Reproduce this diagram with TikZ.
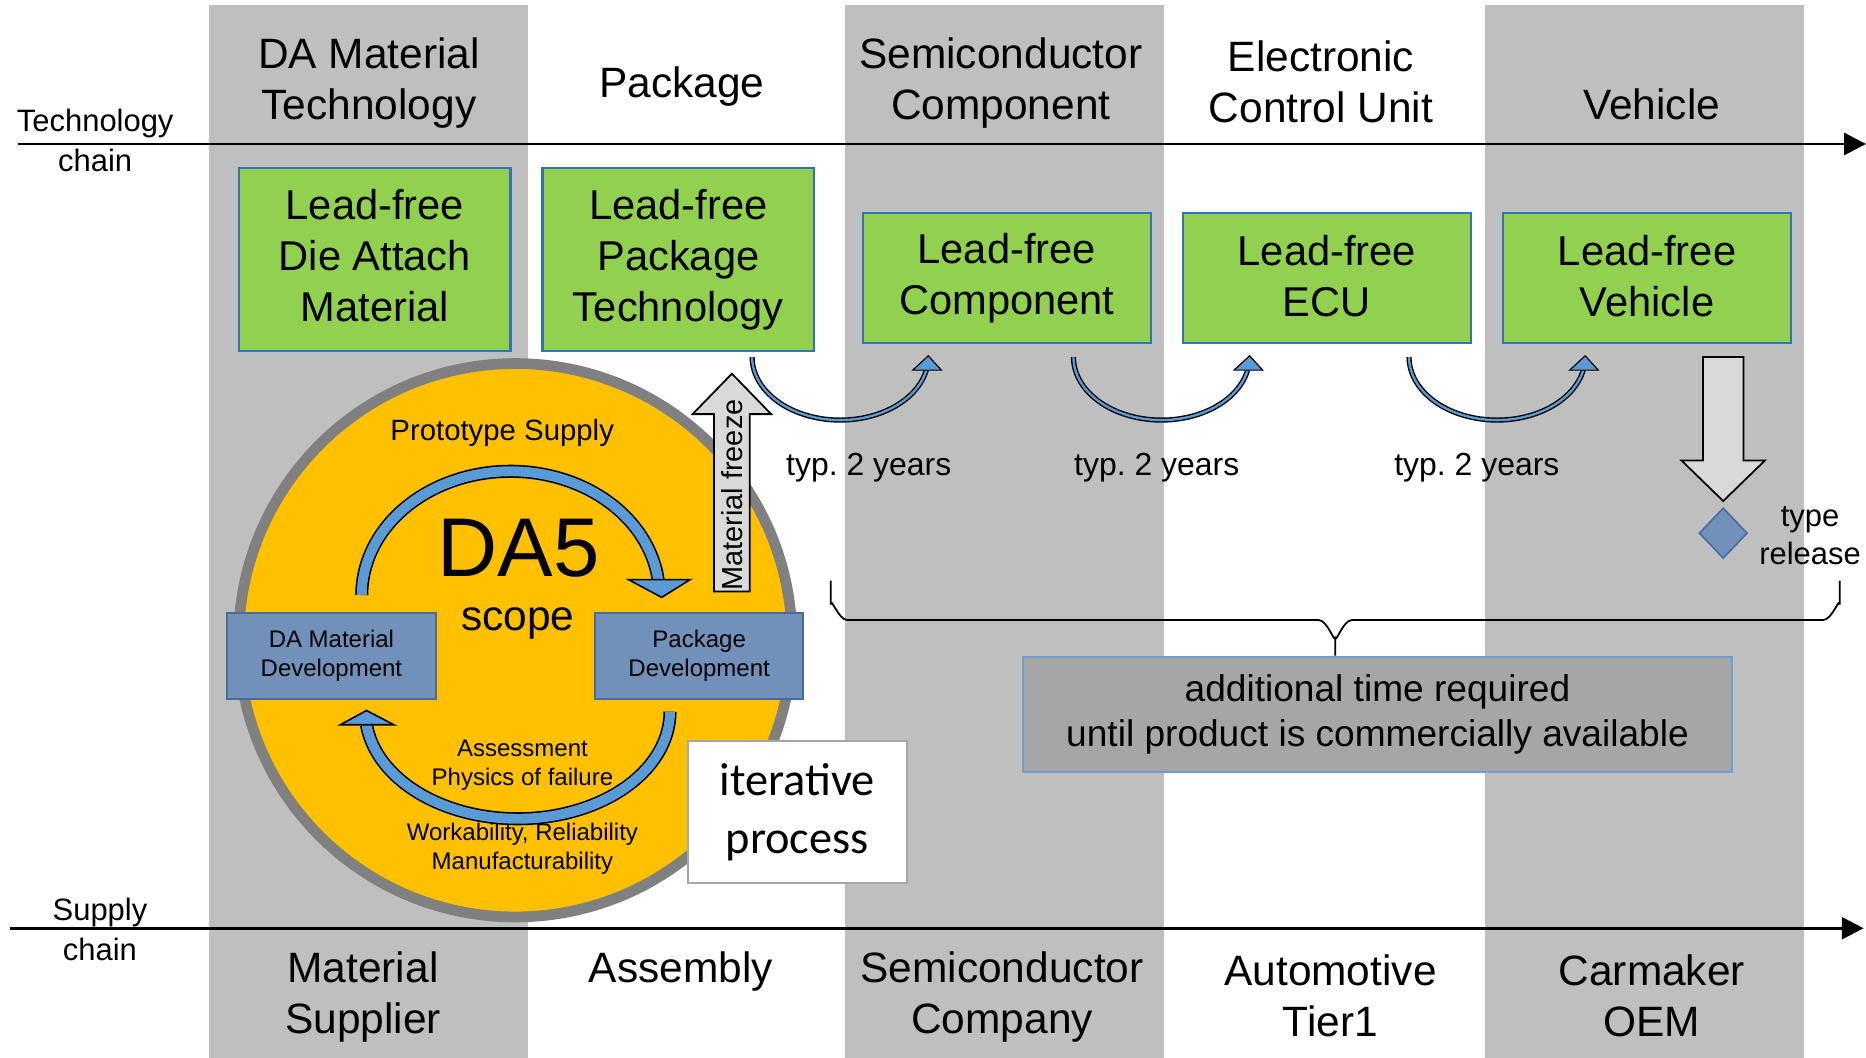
\documentclass[tikz,border=0pt]{standalone}
\usepackage{fontspec}
\setmainfont{Liberation Sans}
\newfontfamily\calibrifont{Carlito}
\usetikzlibrary{arrows.meta}
\definecolor{colgray}{HTML}{BFBFBF}
\definecolor{leafgreen}{HTML}{92D050}
\definecolor{boxblue}{HTML}{2E75B6}
\definecolor{amber}{HTML}{FFC000}
\definecolor{ringgray}{HTML}{808080}
\definecolor{devblue}{HTML}{7190BA}
\definecolor{devborder}{HTML}{4A6A9E}
\definecolor{arrowblue}{HTML}{5B9BD5}
\definecolor{palegray}{HTML}{D9D9D9}
\definecolor{midgray}{HTML}{A6A6A6}
\definecolor{skyborder}{HTML}{6A9FD8}
\newcommand\setfs[2]{\fontsize{#1}{#2}\selectfont}
\frenchspacing
\begin{document}
\begin{tikzpicture}[x=0.6pt,y=-0.6pt,
  lbl/.style={inner sep=0pt, align=center},
  hdr/.style={lbl, font=\setfs{21.4}{25.8}},
  chainlbl/.style={lbl, font=\setfs{15.6}{19.8}},
  greenbox/.style={draw=boxblue, line width=1.2pt, fill=leafgreen, align=center, inner sep=0pt, font=\setfs{21}{25.8}},
  bigbox/.style={greenbox, minimum width=136.8pt, minimum height=92.4pt},
  smallbox/.style={greenbox, minimum width=145.2pt, minimum height=65.4pt},
  devbox/.style={draw=devborder, line width=1pt, fill=devblue, align=center, inner sep=0pt, minimum width=105pt, minimum height=43.2pt, font=\setfs{12.1}{14.4}},
  chainline/.style={line width=1.5pt, -{Triangle[length=11pt,width=11pt]}},
  yearlbl/.style={lbl, font=\setfs{16.1}{19}},
  smalltxt/.style={lbl, font=\setfs{12.1}{14.4}},
  blockarrow/.style={fill=palegray, draw=black, line width=0.9pt, line join=miter},
  ucurve/.pic={
    \draw[line width=2.6pt] plot[smooth, domain=12:180, samples=40] ({74*cos(\x)},{53*sin(\x)});
    \draw[line width=1.2pt, arrowblue] plot[smooth, domain=12:180, samples=40] ({74*cos(\x)},{53*sin(\x)});
    \filldraw[fill=arrowblue, draw=black, line width=0.6pt] (61,11) -- (85,11) -- (74,-1) -- cycle;
  }
]
\useasboundingbox (0,0) rectangle (1568,889);
% columns
\fill[colgray] (176,4) rectangle (444,889);
\fill[colgray] (710,4) rectangle (978,889);
\fill[colgray] (1248,4) rectangle (1516,889);

% headers
\node[hdr] (h1) at (310,70) {DA Material\\Technology};
\node[hdr] (h2) at (573,73) {Package};
\node[hdr] (h3) at (841,70) {Semiconductor\\Component};
\node[hdr] (h4) at (1110,69) {Electronic\\Control Unit};
\node[hdr] (h5) at (1388,88) {Vehicle};

% chain lines
\coordinate (tc0) at (15,121);
\coordinate (tc1) at (1568,121);
\draw[chainline] (tc0) -- (tc1);
\node[chainlbl] (tclbl) at (80,118) {Technology\\chain};
\coordinate (sc0) at (8,780);
\coordinate (sc1) at (1566,780);
\draw[chainline] (sc0) -- (sc1);
\node[chainlbl] (sclbl) at (84,781) {Supply\\chain};

% bottom labels
\node[hdr] (b1) at (305,838) {Material\\Supplier};
\node[hdr] (b2) at (572,816) {Assembly};
\node[hdr] (b3) at (842,838) {Semiconductor\\Company};
\node[hdr] (b4) at (1118,837) {Automotive\\Tier1};
\node[hdr] (b5) at (1388,837) {Carmaker\\OEM};

% green boxes
\node[bigbox] (g1) at (315,218) {};
\node[lbl, font=\setfs{21}{25.8}] (g1t) at (315,215) {Lead-free\\Die Attach\\Material};
\node[bigbox] (g2) at (570,218) {Lead-free\\Package\\Technology};
\node[smallbox] (g3) at (846,233.5) {Lead-free\\Component};
\node[smallbox] (g4) at (1115,233.5) {};
\node[lbl, font=\setfs{21}{25.8}] (g4t) at (1115,232) {Lead-free\\ECU};
\node[smallbox] (g5) at (1384,233.5) {};
\node[lbl, font=\setfs{21}{25.8}] (g5t) at (1384,232) {Lead-free\\Vehicle};

% curved transition arrows
\pic at (706,300) {ucurve};
\pic at (976,300) {ucurve};
\pic at (1258,300) {ucurve};
\node[yearlbl] (y1) at (730,393) {typ. 2 years};
\node[yearlbl] (y2) at (972,393) {typ. 2 years};
\node[yearlbl] (y3) at (1241,393) {typ. 2 years};

% vehicle down arrow and diamond
\draw[blockarrow] (1431,300) -- (1465,300) -- (1465,387) -- (1483,387) -- (1448,421) -- (1413,387) -- (1431,387) -- cycle;
\filldraw[fill=devblue, draw=devborder, line width=0.8pt] (1448,427) -- (1468,448) -- (1448,469) -- (1428,448) -- cycle;
\node[lbl, font=\setfs{15.6}{19.2}] (rel) at (1521,450) {type\\release};

% brace and additional box
\node[draw=skyborder, line width=1pt, fill=midgray, minimum width=357pt, minimum height=58.2pt, inner sep=0pt, align=center, font=\setfs{18.7}{22.8}] (add) at (1157.5,600.5) {additional time required\\until product is commercially available};
\coordinate (brtip) at (1122,551);
\draw[line width=0.9pt] (698,488) -- (698,508) to[out=90,in=180] (712,521) -- (1108,521) to[out=0,in=-90] (1122,535) -- (brtip);
\draw[line width=0.9pt] (1122,535) to[out=-90,in=180] (1136,521) -- (1532,521) to[out=0,in=90] (1546,508) -- (1546,488);

% DA5 circle
\node[circle, draw=ringgray, line width=5.4pt, fill=amber, minimum size=279pt, inner sep=0pt] (da5) at (433,538) {};
\node[lbl, font=\setfs{14.8}{17}] (proto) at (422,364) {Prototype Supply};
\node[lbl, font=\setfs{42}{48}] (da5t) at (436,461) {DA5};
\node[lbl, font=\setfs{21.4}{25}] (scope) at (435,524) {scope};
\node[smalltxt] (assess) at (439,643) {Assessment\\Physics of failure};
\node[smalltxt] (work) at (439,713) {Workability, Reliability\\Manufacturability};

% cycle arrows
\draw[line width=6.6pt] plot[smooth, domain=180:353, samples=60] ({429+125*cos(\x)},{500+104*sin(\x)});
\draw[line width=5pt, arrowblue] plot[smooth, domain=180:353, samples=60] ({429+125*cos(\x)},{500+104*sin(\x)});
\filldraw[fill=arrowblue, draw=black, line width=0.8pt] (528,487) -- (580,487) -- (556,502) -- cycle;
\draw[line width=6.6pt] plot[smooth, domain=0:173, samples=60] ({435+128*cos(\x)},{598+90*sin(\x)});
\draw[line width=5pt, arrowblue] plot[smooth, domain=0:173, samples=60] ({435+128*cos(\x)},{598+90*sin(\x)});
\filldraw[fill=arrowblue, draw=black, line width=0.8pt] (286,609) -- (331,609) -- (308,597) -- cycle;

% development boxes
\node[devbox] (dam) at (278.5,551) {DA Material\\Development};
\node[devbox] (pkd) at (587.5,551) {Package\\Development};

% material freeze arrow
\draw[blockarrow] (600,497) -- (600,348) -- (582,348) -- (615,314) -- (648,348) -- (630,348) -- (630,497) -- cycle;
\node[lbl, rotate=90, font=\setfs{14.6}{17}] (mf) at (615,416) {Material freeze};

% iterative process
\node[draw=midgray, line width=1pt, fill=white, minimum width=110.4pt, minimum height=71.4pt, inner sep=0pt, align=center, font=\calibrifont\setfs{23.4}{29.4}] (iter) at (670,682.5) {iterative\\process};
\end{tikzpicture}
\end{document}
